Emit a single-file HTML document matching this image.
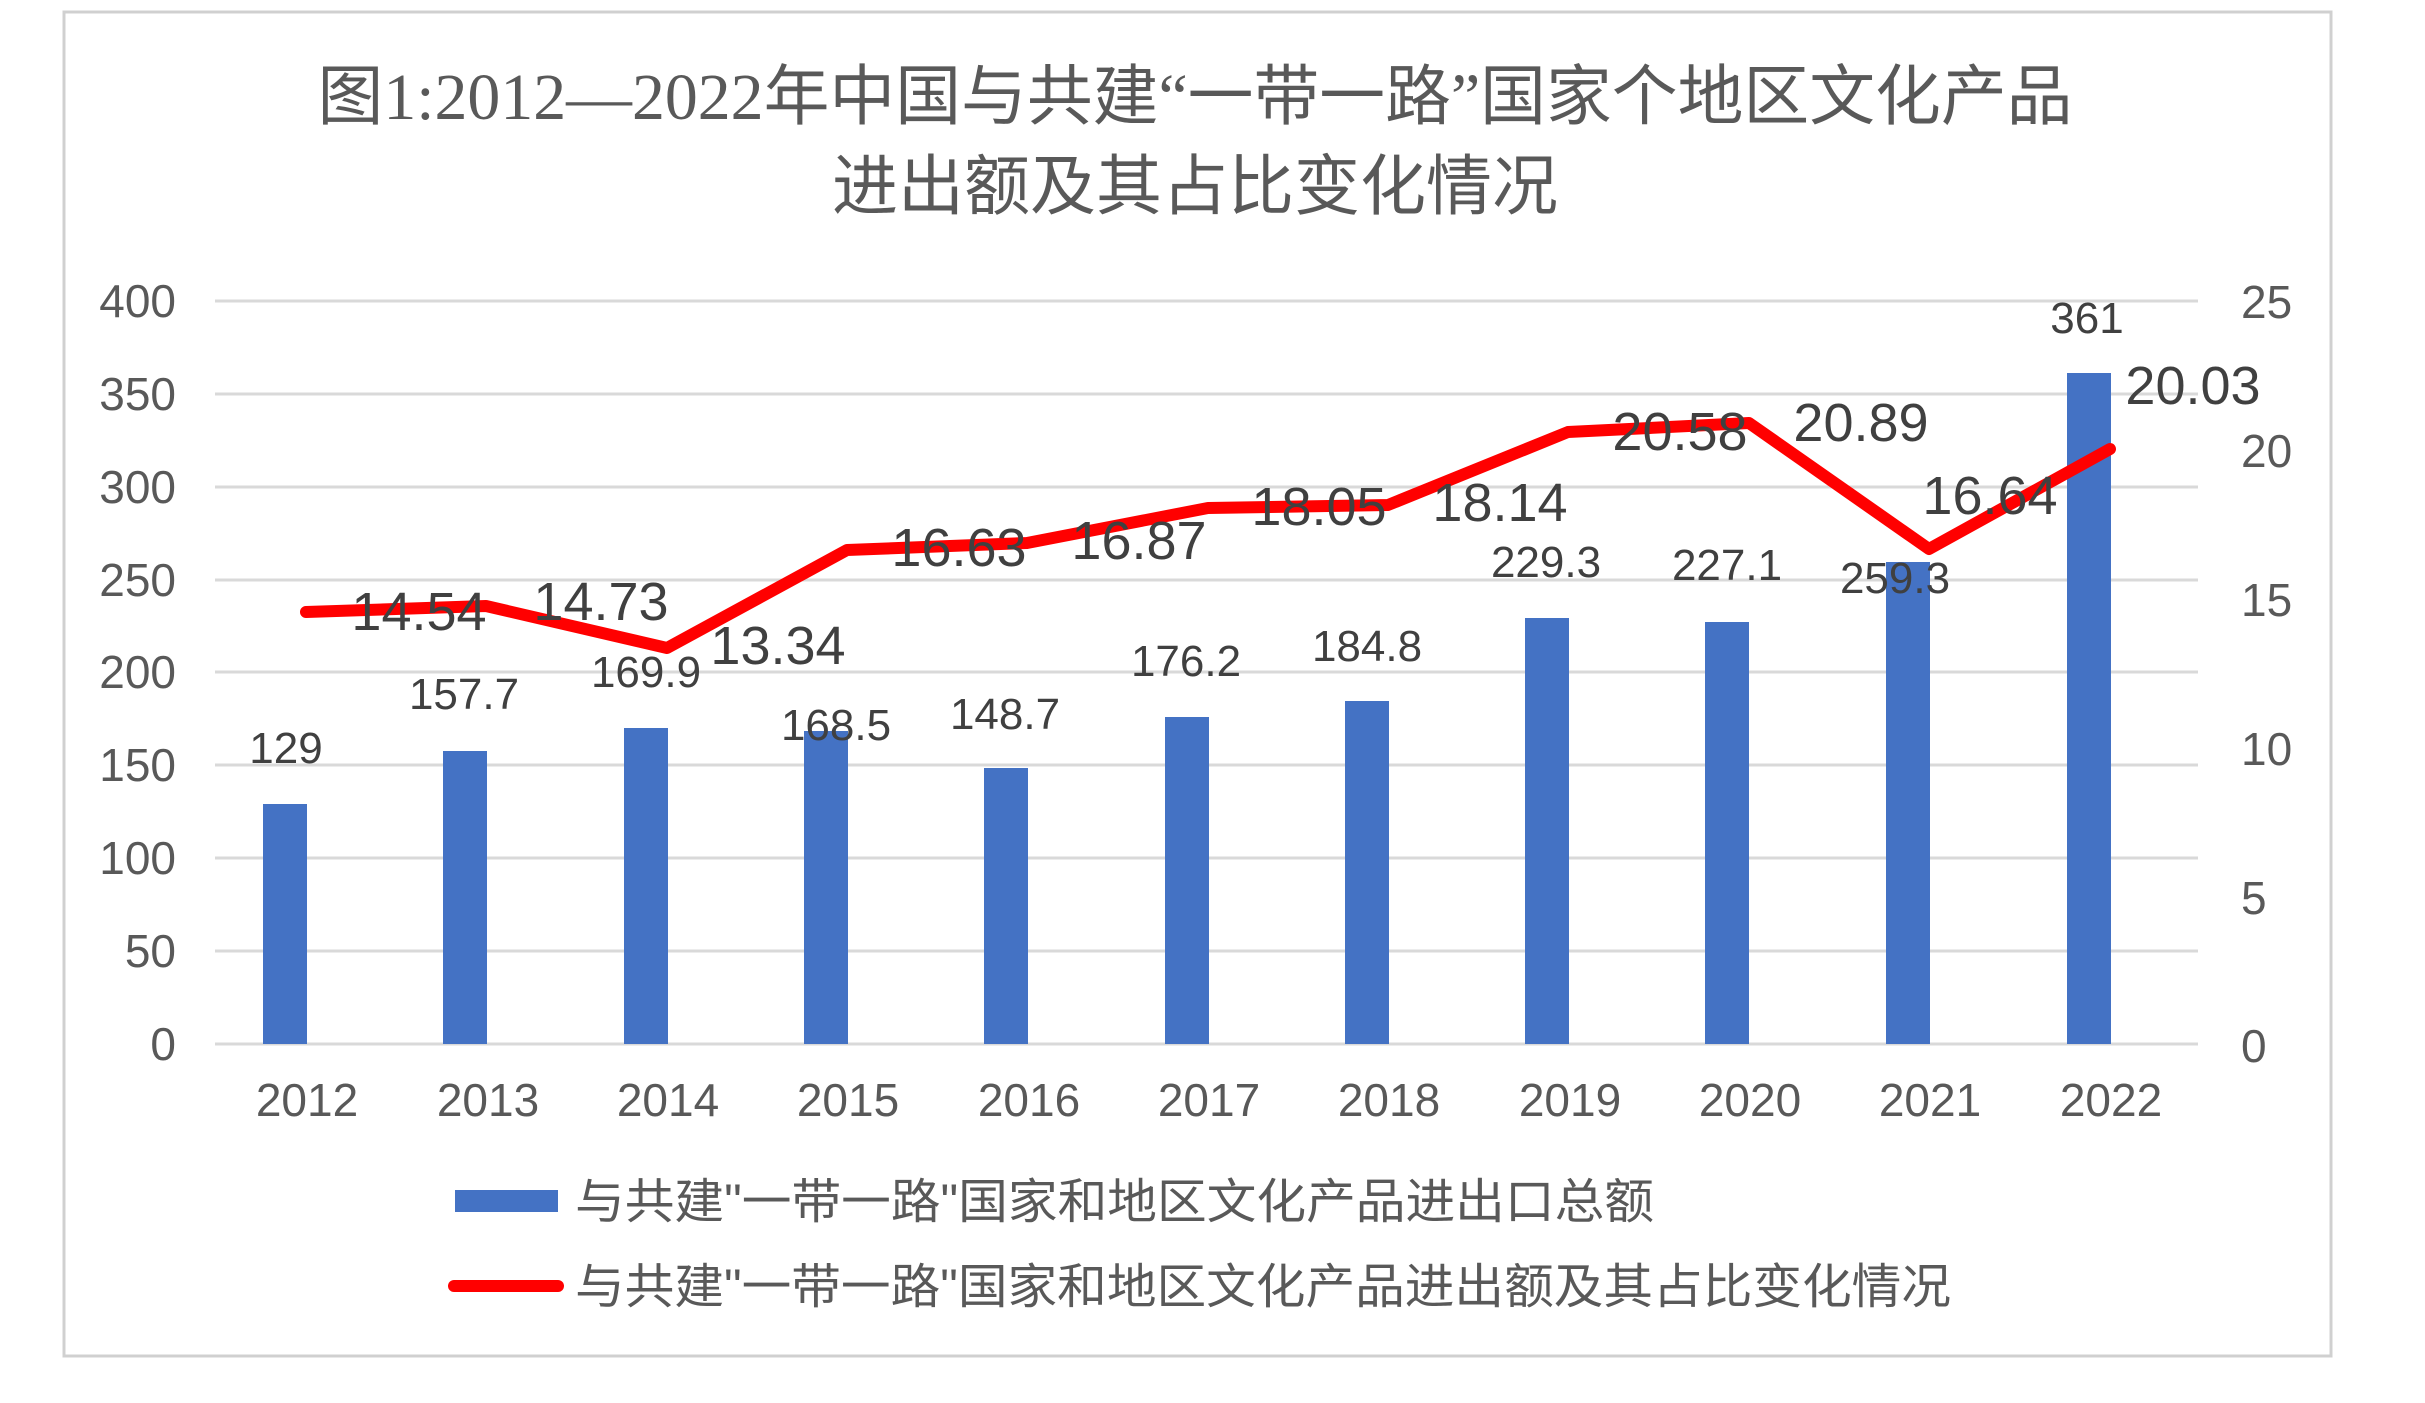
<!DOCTYPE html>
<html><head><meta charset="utf-8"><style>
html,body{margin:0;padding:0;background:#fff;}
svg{display:block;}
</style></head><body>
<svg width="2425" height="1403" viewBox="0 0 2425 1403" xmlns="http://www.w3.org/2000/svg">
<rect x="0" y="0" width="2425" height="1403" fill="#fff"/>
<rect x="64" y="12" width="2267" height="1344" fill="#fff" stroke="#d0d0d0" stroke-width="3"/>
<g font-family="'Liberation Serif','Noto Sans CJK SC',serif" fill="#595959" font-size="66" text-anchor="middle">
<text x="1195" y="119" textLength="1755" lengthAdjust="spacingAndGlyphs">图1:2012—2022年中国与共建“一带一路”国家个地区文化产品</text>
<text x="1195" y="209">进出额及其占比变化情况</text>
</g>
<g stroke="#d9d9d9" stroke-width="3">
<line x1="215" x2="2198" y1="301" y2="301"/>
<line x1="215" x2="2198" y1="394" y2="394"/>
<line x1="215" x2="2198" y1="487" y2="487"/>
<line x1="215" x2="2198" y1="580" y2="580"/>
<line x1="215" x2="2198" y1="672" y2="672"/>
<line x1="215" x2="2198" y1="765" y2="765"/>
<line x1="215" x2="2198" y1="858" y2="858"/>
<line x1="215" x2="2198" y1="951" y2="951"/>
<line x1="215" x2="2198" y1="1044" y2="1044"/>
</g>
<g font-family="'Liberation Sans',sans-serif" font-size="46" fill="#595959" text-anchor="end">
<text x="176" y="317">400</text><text x="176" y="410">350</text><text x="176" y="503">300</text>
<text x="176" y="596">250</text><text x="176" y="688">200</text><text x="176" y="781">150</text>
<text x="176" y="874">100</text><text x="176" y="967">50</text><text x="176" y="1060">0</text>
</g>
<g font-family="'Liberation Sans',sans-serif" font-size="46" fill="#595959" text-anchor="start">
<text x="2241" y="318">25</text><text x="2241" y="467">20</text><text x="2241" y="616">15</text>
<text x="2241" y="765">10</text><text x="2241" y="914">5</text><text x="2241" y="1062">0</text>
</g>
<g fill="#4472C4">
<rect x="263" y="804" width="44" height="240"/>
<rect x="443" y="751" width="44" height="293"/>
<rect x="624" y="728" width="44" height="316"/>
<rect x="804" y="731" width="44" height="313"/>
<rect x="984" y="768" width="44" height="276"/>
<rect x="1165" y="717" width="44" height="327"/>
<rect x="1345" y="701" width="44" height="343"/>
<rect x="1525" y="618" width="44" height="426"/>
<rect x="1705" y="622" width="44" height="422"/>
<rect x="1886" y="562" width="44" height="482"/>
<rect x="2067" y="373" width="44" height="671"/>
</g>
<polyline fill="none" stroke="#FF0000" stroke-width="12" stroke-linejoin="round" stroke-linecap="round"
points="306,612 486,606 667,648 847,550 1027,543 1208,508 1388,505 1568,432 1749,423 1929,549 2110,449"/>
<g font-family="'Liberation Sans',sans-serif" font-size="44" fill="#404040" text-anchor="middle">
<text x="286" y="763">129</text><text x="464" y="709">157.7</text><text x="646" y="687">169.9</text>
<text x="836" y="740">168.5</text><text x="1005" y="729">148.7</text><text x="1186" y="676">176.2</text>
<text x="1367" y="661">184.8</text><text x="1546" y="577">229.3</text><text x="1727" y="580">227.1</text>
<text x="1895" y="593">259.3</text><text x="2087" y="333">361</text>
</g>
<g font-family="'Liberation Sans',sans-serif" font-size="54" fill="#404040" text-anchor="middle">
<text x="419" y="630">14.54</text><text x="601" y="620">14.73</text><text x="778" y="664">13.34</text>
<text x="959" y="566">16.63</text><text x="1139" y="559">16.87</text><text x="1319" y="525">18.05</text>
<text x="1500" y="521">18.14</text><text x="1680" y="450">20.58</text><text x="1861" y="441">20.89</text>
<text x="1990" y="514">16.64</text><text x="2193" y="404">20.03</text>
</g>
<g font-family="'Liberation Sans',sans-serif" font-size="46" fill="#595959" text-anchor="middle">
<text x="307" y="1116">2012</text><text x="488" y="1116">2013</text><text x="668" y="1116">2014</text>
<text x="848" y="1116">2015</text><text x="1029" y="1116">2016</text><text x="1209" y="1116">2017</text>
<text x="1389" y="1116">2018</text><text x="1570" y="1116">2019</text><text x="1750" y="1116">2020</text>
<text x="1930" y="1116">2021</text><text x="2111" y="1116">2022</text>
</g>
<rect x="455" y="1190" width="103" height="22" fill="#4472C4"/>
<line x1="454" y1="1286" x2="558" y2="1286" stroke="#FF0000" stroke-width="12" stroke-linecap="round"/>
<g font-family="'Liberation Sans','Noto Sans CJK SC',sans-serif" font-size="48" fill="#595959">
<text x="575" y="1218" textLength="1079" lengthAdjust="spacingAndGlyphs">与共建"一带一路"国家和地区文化产品进出口总额</text>
<text x="575" y="1303" textLength="1376" lengthAdjust="spacingAndGlyphs">与共建"一带一路"国家和地区文化产品进出额及其占比变化情况</text>
</g>
</svg>
</body></html>
